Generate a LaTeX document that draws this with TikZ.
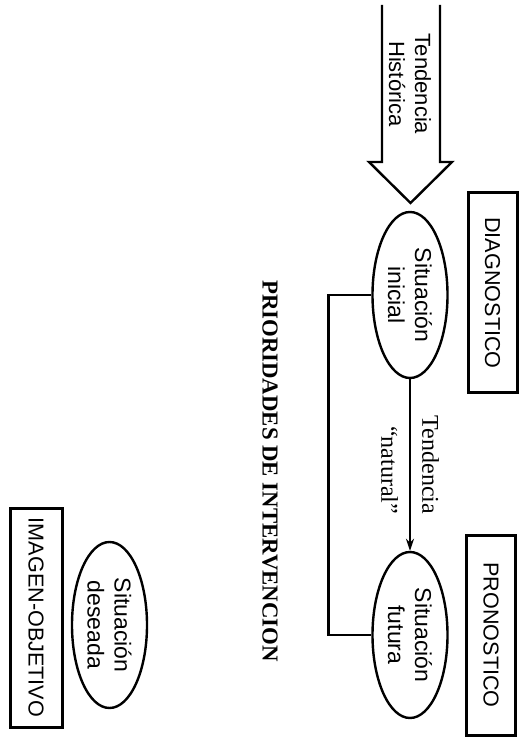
\documentclass[tikz,border=0pt]{standalone}
\usepackage{fontspec}
\setmainfont{Liberation Sans}
\newfontfamily\serifa{Liberation Serif}
\usetikzlibrary{shapes.geometric,arrows.meta}
\tikzset{
  caja/.style={draw,line width=1.5pt,rotate=-90,minimum width=100pt,minimum height=24.5pt,
    inner sep=0pt,font=\fontsize{10.8}{13}\selectfont},
  situ/.style={draw,ellipse,rotate=-90,align=center,minimum width=83pt,minimum height=37.5pt,
    inner sep=0pt,font=\fontsize{11.5}{13.5}\selectfont},
  giro/.style={rotate=-90,align=center,inner sep=0pt}
}
\begin{document}
\begin{tikzpicture}[x=0.5pt,y=-0.5pt,line width=1.2pt]
  \useasboundingbox (0,0) rectangle (520,747);
  \node[caja] (diag) at (492.5,293) {DIAGNOSTICO};
  \node[caja] (pron) at (491,635) {PRONOSTICO};
  \node[caja,minimum width=109.5pt,minimum height=26pt] (imag) at (36,617.5) {IMAGEN-OBJETIVO};
  \node[situ] (ini) at (410,295) {Situación\\inicial};
  \node[situ] (fut) at (410,635) {Situación\\futura};
  \node[situ] (des) at (109.5,625) {Situación\\deseada};
  % flecha ancha
  \draw (382,5) -- (382,162) -- (369,162) -- (410.5,203) -- (452,162) -- (440,162) -- (440,5);
  \node[giro,font=\fontsize{11}{13}\selectfont] (hist) at (410,84) {Tendencia\\Histórica};
  \draw[-{Stealth[length=6pt,width=4pt]}] (ini.east) --
    node[giro,align=right,font=\serifa\fontsize{12}{20.5}\selectfont] (nat) {Tendencia\\“natural”} (fut.west);
  \draw (ini.south) -- ++(-43,0) |- (fut.south);
  \node[giro,font=\serifa\bfseries\fontsize{11.4}{14}\selectfont] (prio) at (270,471) {PRIORIDADES DE INTERVENCION};
\end{tikzpicture}
\end{document}
